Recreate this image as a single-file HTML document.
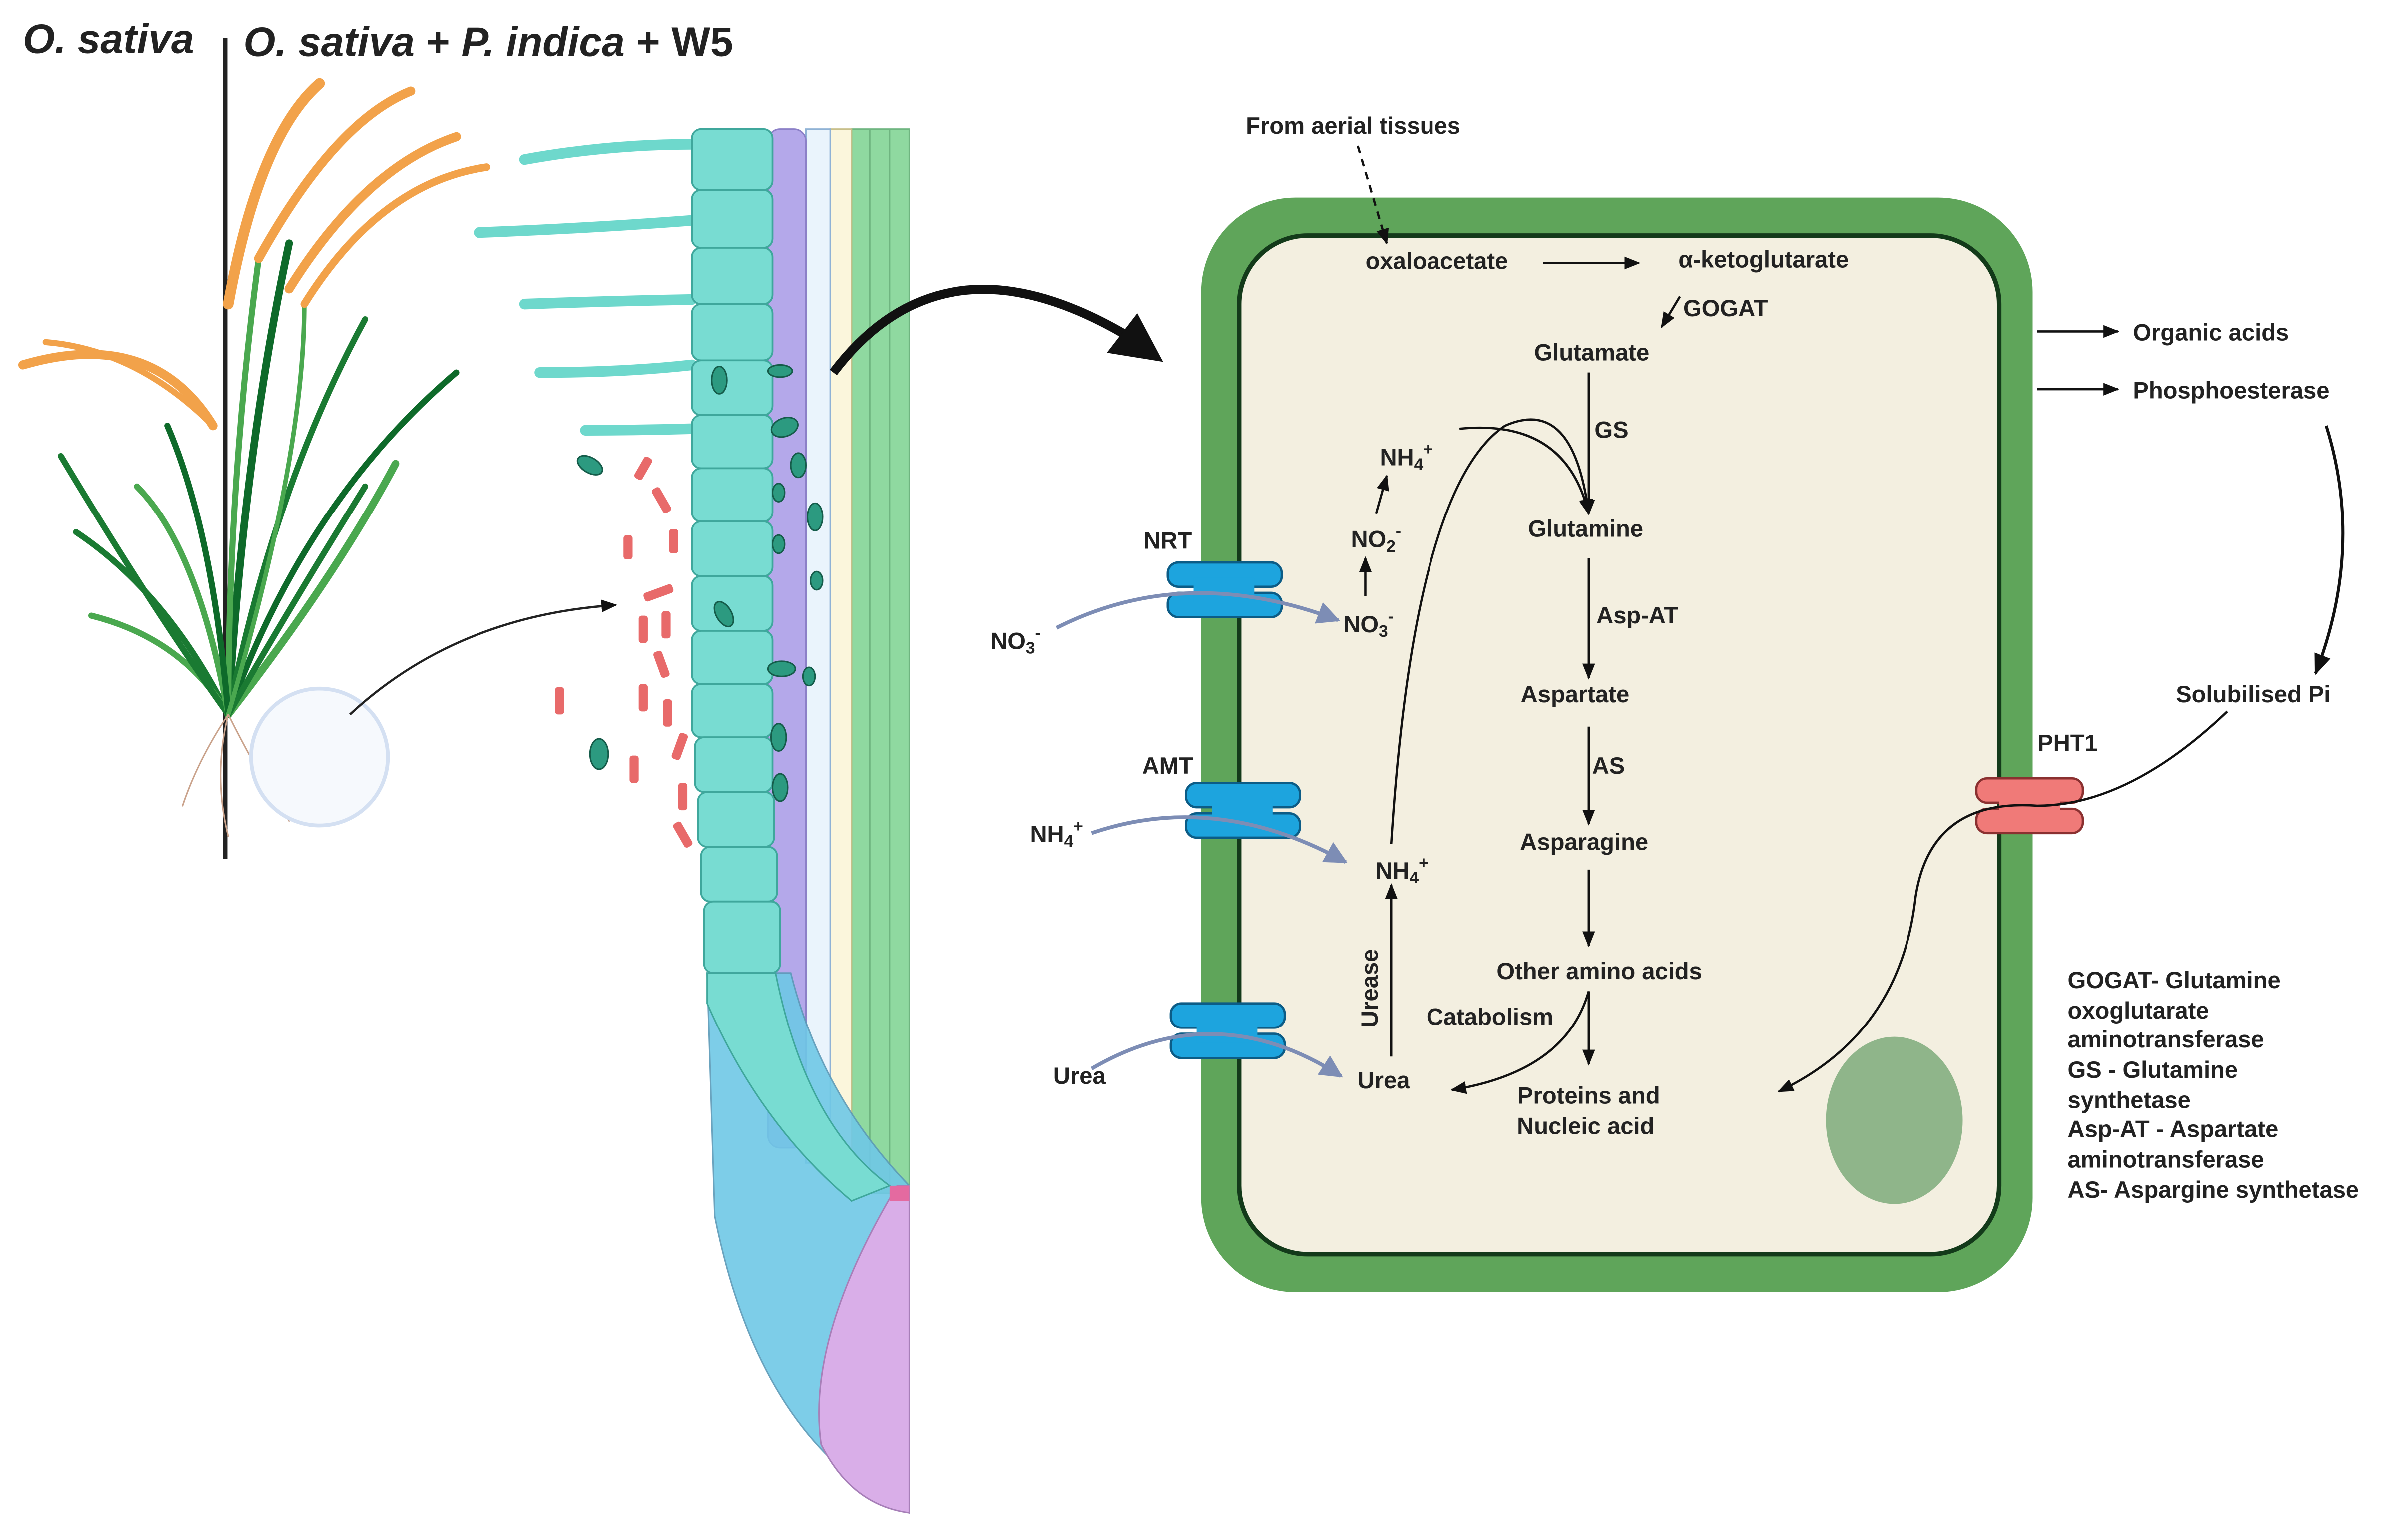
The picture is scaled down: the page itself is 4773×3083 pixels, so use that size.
<!DOCTYPE html>
<html><head><meta charset="utf-8"><style>
html,body{margin:0;padding:0;background:#fff;}
svg{display:block;}
text{font-family:"Liberation Sans",sans-serif;font-weight:bold;fill:#222;}
</style></head><body>
<svg width="4773" height="3083" viewBox="0 0 1568 1013" xmlns="http://www.w3.org/2000/svg">
<defs>
<marker id="ah" viewBox="0 0 10 10" refX="9" refY="5" markerWidth="7" markerHeight="7" orient="auto"><path d="M0,1 L10,5 L0,9 z" fill="#111"/></marker>
<marker id="ahb" viewBox="0 0 10 10" refX="9" refY="5" markerWidth="6" markerHeight="6" orient="auto"><path d="M0,0 L10,5 L0,10 z" fill="#7d8db5"/></marker>
</defs>
<!-- titles -->
<text x="15" y="35" font-size="27" font-style="italic">O. sativa</text>
<text x="160" y="37" font-size="27"><tspan font-style="italic">O. sativa</tspan> + <tspan font-style="italic">P. indica</tspan> + W5</text>
<line x1="148" y1="25" x2="148" y2="565" stroke="#222" stroke-width="3"/>
<!-- plant -->
<g fill="none" stroke-linecap="round">
<path d="M150,470 Q110,390 50,350" stroke="#1a7a32" stroke-width="4"/>
<path d="M150,470 Q120,420 60,405" stroke="#4aa84f" stroke-width="4"/>
<path d="M150,470 Q100,400 40,300" stroke="#1a7a32" stroke-width="4"/>
<path d="M150,470 Q130,360 90,320" stroke="#4aa84f" stroke-width="4"/>
<path d="M150,470 Q160,300 190,160" stroke="#0e6a2a" stroke-width="5"/>
<path d="M150,470 Q180,320 240,210" stroke="#1a7a32" stroke-width="4"/>
<path d="M150,470 Q200,330 300,245" stroke="#0e6a2a" stroke-width="4"/>
<path d="M150,470 Q220,380 260,305" stroke="#4aa84f" stroke-width="5"/>
<path d="M150,470 Q190,400 240,320" stroke="#1a7a32" stroke-width="4"/>
<path d="M150,470 Q150,320 170,170" stroke="#4aa84f" stroke-width="4"/>
<path d="M150,470 Q140,350 110,280" stroke="#0e6a2a" stroke-width="4"/>
<path d="M150,470 Q200,300 200,200" stroke="#4aa84f" stroke-width="3"/>
<path d="M150,200 Q170,90 210,55" stroke="#f2a24a" stroke-width="7"/>
<path d="M170,170 Q220,80 270,60" stroke="#f2a24a" stroke-width="6"/>
<path d="M190,190 Q240,110 300,90" stroke="#f2a24a" stroke-width="6"/>
<path d="M200,200 Q250,120 320,110" stroke="#f2a24a" stroke-width="5"/>
<path d="M140,280 Q100,215 15,240" stroke="#f2a24a" stroke-width="6"/>
<path d="M140,280 Q90,230 30,225" stroke="#f2a24a" stroke-width="4"/>
<path d="M150,470 Q130,500 120,530 M150,470 Q170,510 190,540 M150,470 Q140,510 150,550" stroke="#caa38c" stroke-width="1"/>
</g>
<circle cx="210" cy="498" r="45" fill="#f6f9fd" stroke="#d4e0f2" stroke-width="2.5"/>
<path d="M230,470 Q300,405 405,398" fill="none" stroke="#222" stroke-width="1.5" marker-end="url(#ah)"/>
<!-- root hairs -->
<g stroke="#6ed8cc" stroke-width="7" stroke-linecap="round" fill="none">
<path d="M345,105 Q400,95 455,95"/><path d="M315,153 Q390,150 455,145"/><path d="M345,200 Q400,198 455,197"/><path d="M355,245 Q410,245 455,240"/><path d="M385,283 Q420,283 455,282"/>
</g>
<!-- root columns -->
<rect x="560" y="85" width="38" height="700" fill="#8fd9a0" stroke="#6fb580"/>
<line x1="572" y1="85" x2="572" y2="780" stroke="#6fb580"/><line x1="585" y1="85" x2="585" y2="780" stroke="#6fb580"/>
<rect x="546" y="85" width="14" height="690" fill="#fbf6dc" stroke="#c8bf8a"/>
<rect x="530" y="85" width="16" height="680" fill="#eaf4fc" stroke="#8fb2d5"/>
<rect x="505" y="85" width="25" height="670" rx="8" fill="#b4a8ea" stroke="#8c80c8"/>
<g fill="#78dcd2" stroke="#3fa79c" stroke-width="1.2">
<rect x="455" y="85" width="53" height="40" rx="6"/><rect x="455" y="125" width="53" height="38" rx="6"/><rect x="455" y="163" width="53" height="37" rx="6"/><rect x="455" y="200" width="53" height="37" rx="6"/><rect x="455" y="237" width="53" height="36" rx="6"/><rect x="455" y="273" width="53" height="35" rx="6"/><rect x="455" y="308" width="53" height="35" rx="6"/><rect x="455" y="343" width="53" height="36" rx="6"/><rect x="455" y="379" width="53" height="36" rx="6"/><rect x="455" y="415" width="53" height="35" rx="6"/><rect x="455" y="450" width="53" height="35" rx="6"/><rect x="457" y="485" width="51" height="36" rx="6"/><rect x="459" y="521" width="50" height="36" rx="6"/><rect x="461" y="557" width="50" height="36" rx="6"/><rect x="463" y="593" width="50" height="47" rx="6"/>
</g>
<!-- root tip -->
<path d="M465,640 L520,640 Q540,720 598,780 L598,995 Q500,950 470,800 Z" fill="#6fc8e6" stroke="#5a9ab8" opacity="0.9"/>
<path d="M465,640 L510,640 Q530,740 585,780 L560,790 Q500,740 465,660 Z" fill="#78dcd2" stroke="#3fa79c"/>
<path d="M598,780 L598,995 Q560,990 540,950 Q530,880 590,780 Z" fill="#d9aee8" stroke="#a77fb8"/>
<path d="M585,780 L598,780 L598,790 L585,790 Z" fill="#e46aa0"/>
<!-- bacteria -->
<g fill="#e86a6a">
<rect x="420" y="300" width="6" height="16" rx="2" transform="rotate(30 423 308)"/><rect x="432" y="320" width="6" height="18" rx="2" transform="rotate(-30 435 329)"/>
<rect x="410" y="352" width="6" height="16" rx="2"/><rect x="440" y="348" width="6" height="16" rx="2"/><rect x="430" y="380" width="6" height="20" rx="2" transform="rotate(70 433 390)"/>
<rect x="420" y="405" width="6" height="18" rx="2"/><rect x="435" y="402" width="6" height="18" rx="2"/><rect x="432" y="428" width="6" height="18" rx="2" transform="rotate(-20 435 437)"/>
<rect x="365" y="452" width="6" height="18" rx="2"/><rect x="420" y="450" width="6" height="18" rx="2"/><rect x="436" y="460" width="6" height="18" rx="2"/>
<rect x="444" y="482" width="6" height="18" rx="2" transform="rotate(20 447 491)"/><rect x="414" y="497" width="6" height="18" rx="2"/><rect x="446" y="515" width="6" height="18" rx="2"/><rect x="446" y="540" width="6" height="18" rx="2" transform="rotate(-30 449 549)"/>
</g>
<g fill="#2c9a80" stroke="#155c4a" stroke-width="1">
<ellipse cx="388" cy="306" rx="9" ry="5" transform="rotate(30 388 306)"/><ellipse cx="473" cy="250" rx="5" ry="9"/><ellipse cx="513" cy="244" rx="8" ry="4"/><ellipse cx="516" cy="281" rx="9" ry="6" transform="rotate(-20 516 281)"/><ellipse cx="525" cy="306" rx="5" ry="8"/><ellipse cx="512" cy="324" rx="4" ry="6"/><ellipse cx="536" cy="340" rx="5" ry="9"/><ellipse cx="512" cy="358" rx="4" ry="6"/><ellipse cx="476" cy="404" rx="5" ry="9" transform="rotate(-30 476 404)"/><ellipse cx="537" cy="382" rx="4" ry="6"/><ellipse cx="514" cy="440" rx="9" ry="5"/><ellipse cx="532" cy="445" rx="4" ry="6"/><ellipse cx="394" cy="496" rx="6" ry="10"/><ellipse cx="512" cy="485" rx="5" ry="9"/><ellipse cx="513" cy="518" rx="5" ry="9"/>
</g>
<!-- big arrow -->
<path d="M548,245 Q620,150 740,220" fill="none" stroke="#111" stroke-width="6"/>
<path d="M765,238 L728,232 L748,206 Z" fill="#111"/>
<!-- cell -->
<rect x="790" y="130" width="547" height="720" rx="62" fill="#5fa55a"/>
<rect x="815" y="155" width="500" height="670" rx="45" fill="#f3efe0" stroke="#133a1a" stroke-width="3"/>
<ellipse cx="1246" cy="737" rx="45" ry="55" fill="#8fb58a"/>
<!-- transporters -->
<g fill="#1da4de" stroke="#0c5c86" stroke-width="1.5">
<rect x="768" y="370" width="75" height="16" rx="7"/><rect x="768" y="390" width="75" height="16" rx="7"/><rect x="785" y="380" width="40" height="16" fill="#1da4de" stroke="none"/>
<rect x="780" y="515" width="75" height="16" rx="7"/><rect x="780" y="535" width="75" height="16" rx="7"/><rect x="797" y="525" width="40" height="16" stroke="none"/>
<rect x="770" y="660" width="75" height="16" rx="7"/><rect x="770" y="680" width="75" height="16" rx="7"/><rect x="787" y="670" width="40" height="16" stroke="none"/>
</g>
<g fill="#f07a78" stroke="#8a3030" stroke-width="1.5">
<rect x="1300" y="512" width="70" height="16" rx="7"/><rect x="1300" y="532" width="70" height="16" rx="7"/><rect x="1315" y="522" width="40" height="16" stroke="none"/>
</g>
<!-- text -->
<g font-size="15.5" text-anchor="middle">
<text x="890" y="88">From aerial tissues</text>
<text x="945" y="177">oxaloacetate</text>
<text x="1160" y="176">α-ketoglutarate</text>
<text x="1135" y="208">GOGAT</text>
<text x="1047" y="237">Glutamate</text>
<text x="1060" y="288">GS</text>
<text x="1043" y="353">Glutamine</text>
<text x="1077" y="410">Asp-AT</text>
<text x="1036" y="462">Aspartate</text>
<text x="1058" y="509">AS</text>
<text x="1042" y="559">Asparagine</text>
<text x="1052" y="644">Other amino acids</text>
<text x="980" y="674">Catabolism</text>
<text x="1045" y="726">Proteins and</text>
<text x="1043" y="746">Nucleic acid</text>
<text x="910" y="716">Urea</text>
<text x="922" y="578">NH<tspan font-size="11" dy="3">4</tspan><tspan font-size="11" dy="-10">+</tspan></text>
<text x="900" y="416">NO<tspan font-size="11" dy="3">3</tspan><tspan font-size="11" dy="-10">-</tspan></text>
<text x="905" y="360">NO<tspan font-size="11" dy="3">2</tspan><tspan font-size="11" dy="-10">-</tspan></text>
<text x="925" y="306">NH<tspan font-size="11" dy="3">4</tspan><tspan font-size="11" dy="-10">+</tspan></text>
<text x="768" y="361">NRT</text>
<text x="768" y="509">AMT</text>
<text x="1360" y="494">PHT1</text>
<text x="668" y="427">NO<tspan font-size="11" dy="3">3</tspan><tspan font-size="11" dy="-10">-</tspan></text>
<text x="695" y="554">NH<tspan font-size="11" dy="3">4</tspan><tspan font-size="11" dy="-10">+</tspan></text>
<text x="710" y="713">Urea</text>
<text x="1482" y="462">Solubilised Pi</text>
</g>
<text x="906" y="650" font-size="15.5" text-anchor="middle" transform="rotate(-90 906 650)">Urease</text>
<g font-size="15.5">
<text x="1403" y="224">Organic acids</text>
<text x="1403" y="262">Phosphoesterase</text>
<text x="1360" y="650">GOGAT- Glutamine</text>
<text x="1360" y="670">oxoglutarate</text>
<text x="1360" y="689">aminotransferase</text>
<text x="1360" y="709">GS - Glutamine</text>
<text x="1360" y="729">synthetase</text>
<text x="1360" y="748">Asp-AT - Aspartate</text>
<text x="1360" y="768">aminotransferase</text>
<text x="1360" y="788">AS- Aspargine synthetase</text>
</g>
<!-- arrows -->
<g fill="none" stroke="#111" stroke-width="1.5" marker-end="url(#ah)">
<path d="M893,96 L912,160" stroke-dasharray="5,4"/>
<path d="M1015,173 L1078,173"/>
<path d="M1105,195 L1093,215"/>
<path d="M1045,245 L1045,338"/>
<path d="M1045,367 L1045,446"/>
<path d="M1045,478 L1045,542"/>
<path d="M1045,572 L1045,622"/>
<path d="M1045,652 L1045,700"/>
<path d="M1045,652 Q1030,705 955,717"/>
<path d="M915,695 L915,582"/>
<path d="M915,555 Q930,320 990,280 Q1035,260 1045,338"/>
<path d="M960,282 Q1030,275 1045,338"/>
<path d="M898,392 L898,367"/>
<path d="M905,338 L912,313"/>
<path d="M1340,218 L1393,218"/>
<path d="M1340,256 L1393,256"/>
<path d="M1530,280 Q1555,360 1523,443" stroke-width="2"/>
<path d="M1465,468 Q1400,530 1340,530 Q1270,525 1260,590 Q1250,680 1170,718"/>
</g>
<g fill="none" stroke="#7d8db5" stroke-width="2.5" marker-end="url(#ahb)">
<path d="M695,413 Q780,370 880,408"/>
<path d="M718,548 Q800,520 885,567"/>
<path d="M718,703 Q800,655 882,708"/>
</g>
</svg>
</body></html>
